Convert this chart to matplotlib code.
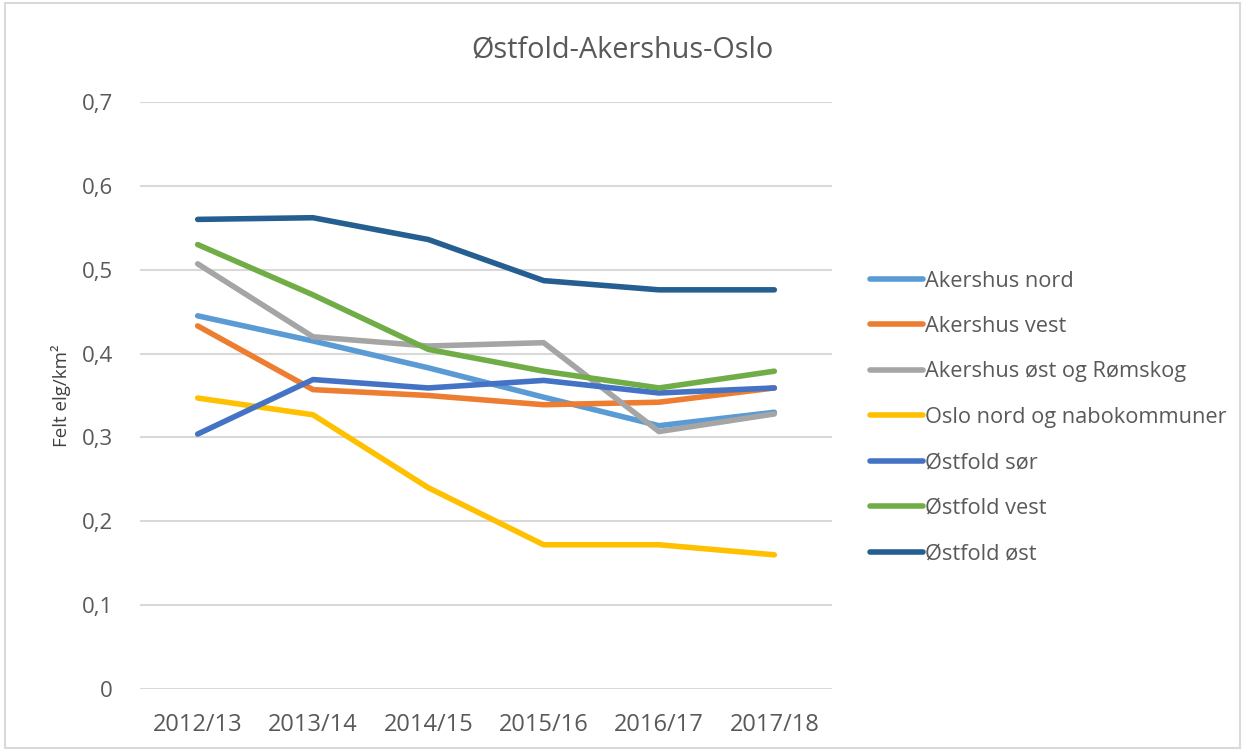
import matplotlib
matplotlib.use("Agg")
import matplotlib.pyplot as plt
from matplotlib.ticker import FuncFormatter

plt.rcParams['font.family'] = ['Open Sans', 'DejaVu Sans']

seasons = ["2012/13", "2013/14", "2014/15", "2015/16", "2016/17", "2017/18"]

akershus_nord = [0.445, 0.415, 0.383, 0.348, 0.314, 0.330]
akershus_vest = [0.433, 0.357, 0.350, 0.339, 0.342, 0.359]
akershus_ost = [0.507, 0.420, 0.409, 0.413, 0.307, 0.328]
oslo_nord = [0.347, 0.327, 0.240, 0.172, 0.172, 0.160]
ostfold_sor = [0.304, 0.369, 0.359, 0.368, 0.353, 0.359]
ostfold_vest = [0.530, 0.470, 0.405, 0.379, 0.359, 0.379]
ostfold_ost = [0.560, 0.562, 0.536, 0.487, 0.476, 0.476]

names = ["Akershus nord", "Akershus vest", "Akershus øst og Rømskog",
         "Oslo nord og nabokommuner", "Østfold sør", "Østfold vest", "Østfold øst"]
series = [akershus_nord, akershus_vest, akershus_ost, oslo_nord,
          ostfold_sor, ostfold_vest, ostfold_ost]
colors = ["#5B9BD5", "#ED7D31", "#A5A5A5", "#FFC000", "#4472C4", "#70AD47", "#255E91"]

fig = plt.figure(figsize=(12.45, 7.51), dpi=100)
ax = fig.add_axes([140 / 1245, 1 - 689 / 751, (832 - 140) / 1245, (689 - 102) / 751])

x = list(range(len(seasons)))
for vals, name, c in zip(series, names, colors):
    ax.plot(x, vals, color=c, linewidth=4, solid_capstyle='round', label=name)

ax.set_xlim(-0.5, len(seasons) - 0.5)
ax.set_ylim(0, 0.7)
ax.set_yticks([i / 10 for i in range(8)])
ax.yaxis.set_major_formatter(FuncFormatter(lambda v, p: "0" if v == 0 else ("%.1f" % v).replace(".", ",")))
ax.set_xticks(x)
ax.set_xticklabels(seasons)
ax.grid(axis='y', color='#D9D9D9', linewidth=1.5)
ax.set_axisbelow(True)
for s in ax.spines.values():
    s.set_visible(False)
ax.tick_params(length=0, colors='#595959')
ax.tick_params(axis='x', labelsize=17, pad=17)
ax.tick_params(axis='y', labelsize=16, pad=19.5)
ax.set_ylabel("Felt elg/km²", fontsize=13.5, color='#404040', labelpad=8)

fig.text(0.5, 1 - 50 / 751, "Østfold-Akershus-Oslo",
         ha='center', va='center', fontsize=20.8, color='#595959')

leg = fig.legend(loc='upper left', bbox_to_anchor=(850 / 1245, 1 - 251 / 751), frameon=False,
                 fontsize=15.7, handlelength=2.45, handletextpad=0.1, labelspacing=1.12,
                 labelcolor='#595959')
for line in leg.get_lines():
    line.set_linewidth(4)

border = plt.Rectangle((0.004, 0.004), 0.992, 0.992, transform=fig.transFigure,
                       fill=False, edgecolor='#D9D9D9', linewidth=1.5)
fig.patches.append(border)

fig.savefig("out.png", dpi=100)
